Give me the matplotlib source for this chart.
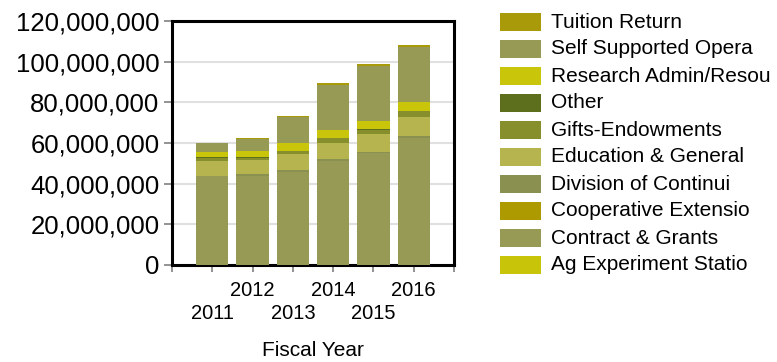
import matplotlib
matplotlib.use("Agg")
import matplotlib.pyplot as plt
from matplotlib.patches import Rectangle
from matplotlib.ticker import FuncFormatter

plt.rcParams['font.family'] = ['Liberation Sans', 'DejaVu Sans']

# -------------------------------------------------------
# Data (values in millions of dollars)
# -------------------------------------------------------
years = ["2011", "2012", "2013", "2014", "2015", "2016"]

ag_experiment = [0.0, 0.0, 0.0, 0.0, 0.0, 0.0]
contract_grants = [43.9, 43.9, 45.9, 51.3, 54.9, 62.3]
coop_extension = [0.0, 0.0, 0.0, 0.0, 0.0, 0.0]
division_cont = [0.0, 0.7, 0.8, 0.7, 0.8, 1.2]
education_general = [7.4, 7.0, 7.8, 8.2, 8.6, 9.1]
gifts_endowments = [1.2, 1.2, 1.6, 2.4, 2.3, 3.1]
other = [0.5, 0.5, 0.0, 0.0, 0.3, 0.0]
research_admin = [2.6, 2.9, 3.8, 3.8, 3.9, 4.6]
self_supported = [4.4, 5.8, 13.0, 22.3, 27.2, 27.1]
tuition_return = [0.0, 0.3, 0.4, 0.8, 0.7, 0.8]

# bottom -> top stacking order
series = [
    ("Ag Experiment Statio", ag_experiment, "#c8c40a"),
    ("Contract & Grants", contract_grants, "#979a55"),
    ("Cooperative Extensio", coop_extension, "#ac9a00"),
    ("Division of Continui", division_cont, "#8a9150"),
    ("Education & General", education_general, "#b5b44e"),
    ("Gifts-Endowments", gifts_endowments, "#878f2c"),
    ("Other", other, "#5d6e1c"),
    ("Research Admin/Resou", research_admin, "#c8c50a"),
    ("Self Supported Opera", self_supported, "#979a55"),
    ("Tuition Return", tuition_return, "#a99a0a"),
]

fig = plt.figure(figsize=(7.77, 3.62), dpi=100)
ax = fig.add_axes([172 / 777, 1 - 265 / 362, 282 / 777, 244 / 362])

x = list(range(1, len(years) + 1))
bottom = [0.0] * len(years)
for name, vals, color in series:
    vals_abs = [v * 1e6 for v in vals]
    ax.bar(x, vals_abs, 0.8, bottom=bottom, color=color, linewidth=0, zorder=3)
    bottom = [b + v for b, v in zip(bottom, vals_abs)]

ax.set_xlim(0, 7)
ax.set_ylim(0, 120e6)
ax.set_yticks(range(0, 120000001, 20000000))
ax.yaxis.set_major_formatter(FuncFormatter(lambda v, p: f"{int(v):,}"))
ax.tick_params(axis='y', labelsize=18.5, color='#808080', length=6, width=1.2, pad=3)
ax.set_xticks(range(0, 8))
ax.set_xticklabels([])
ax.tick_params(axis='x', color='#808080', length=5, width=1.2)
ax.grid(axis='y', color='#e0e0e0', linewidth=1.5, zorder=0)

for s in ax.spines.values():
    s.set_linewidth(2.2)
    s.set_color('black')

# staggered year labels
for i, yr in enumerate(years):
    ypos = -0.105 if i % 2 == 1 else -0.20
    ax.text(x[i], ypos, yr, transform=ax.get_xaxis_transform(),
            ha='center', va='center', fontsize=14.5)
ax.text(3.5, -0.35, "Fiscal Year", transform=ax.get_xaxis_transform(),
        ha='center', va='center', fontsize=15)

# legend, top-down in reverse stacking order
row_h = 27
y0 = 22
for k, (name, vals, color) in enumerate(reversed(series)):
    yc = y0 + k * row_h
    fig.add_artist(Rectangle((500 / 777, 1 - (yc + 9) / 362), 41 / 777, 18 / 362,
                             transform=fig.transFigure, facecolor=color,
                             edgecolor='none'))
    fig.text(551 / 777, 1 - yc / 362, name, ha='left', va='center', fontsize=15)

plt.savefig("out.png", dpi=100)
plt.close()
